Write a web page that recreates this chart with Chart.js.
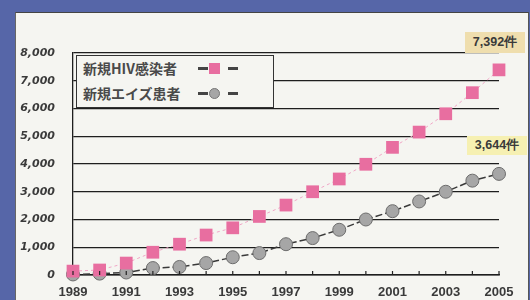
<!DOCTYPE html>
<html>
<head>
<meta charset="utf-8">
<script src="https://cdn.jsdelivr.net/npm/chart.js@4.4.0/dist/chart.umd.min.js"></script>
<style>
  html, body { margin: 0; padding: 0; }
  body { width: 530px; height: 300px; background: #5666a8; position: relative; overflow: hidden; }
  #panel { position: absolute; left: 15px; top: 12px; width: 512px; height: 290px; background: #f5f5f1;
           border-top: 1.5px solid #444; border-left: 1px solid #666; border-right: 1.5px solid #555; }
  #wrap { position: absolute; left: 0; top: 0; width: 530px; height: 300px; }
  #legend { position: absolute; left: 76px; top: 55px; width: 196px; height: 51px; background: #f5f5f1;
            border: 1.5px solid #333; font-family: "Noto Sans CJK JP", sans-serif; font-weight: bold;
            font-size: 14px; color: #4a4a4a; }
  .row { position: relative; height: 25px; line-height: 25px; padding-left: 6px; }
  .dash { position: absolute; top: 11px; width: 10px; height: 2.5px; background: #444; }
  .sym { position: absolute; top: 7px; width: 11px; height: 11px; }
  .callout { position: absolute; font-family: "Liberation Sans", sans-serif; font-weight: bold; font-size: 12.5px;
             color: #3a3a3a; text-align: center; }
</style>
</head>
<body>
<div id="panel"></div>
<div id="wrap"><canvas id="my-chart" width="530" height="300"></canvas></div>
<div id="legend"></div>
<div id="callout-hiv" class="callout" style="left:465px;top:32px;width:60px;height:21px;line-height:21px;background:#efdeae;"></div>
<div id="callout-aids" class="callout" style="left:467px;top:136px;width:60px;height:19px;line-height:19px;background:#f6f0b2;"></div>
<script>
const years = ["1989", "1990", "1991", "1992", "1993", "1994", "1995", "1996", "1997",
  "1998", "1999", "2000", "2001", "2002", "2003", "2004", "2005"];
const hivCases = [140, 180, 430, 820, 1110, 1440, 1700, 2110, 2520, 3000, 3460, 3990, 4600, 5150, 5810, 6570, 7392];
const aidsCases = [20, 50, 90, 250, 290, 430, 640, 790, 1110, 1330, 1630, 2000, 2300, 2650, 3000, 3400, 3644];
const seriesNames = ["新規HIV感染者", "新規エイズ患者"];
const yTicks = [0, 1000, 2000, 3000, 4000, 5000, 6000, 7000, 8000];
const unit = "件";

const hivColor = "#e86ea0";
const aidsColor = "#a6a6a6";

// legend: name, then "—marker—"
const legend = document.getElementById("legend");
seriesNames.forEach((name, i) => {
  const row = document.createElement("div");
  row.className = "row";
  const symStyle = i === 0
    ? `background:${hivColor};`
    : `background:${aidsColor};border-radius:50%;border:1px solid #777;width:9px;height:9px;`;
  row.innerHTML = `
    <span>${name}</span>
    <span class="dash" style="left:121px"></span>
    <span class="sym" style="left:132px;${symStyle}"></span>
    <span class="dash" style="left:151px"></span>
  `;
  legend.appendChild(row);
});

// value labels for the last year
document.getElementById("callout-hiv").textContent =
  hivCases[hivCases.length - 1].toLocaleString("en-US") + unit;
document.getElementById("callout-aids").textContent =
  aidsCases[aidsCases.length - 1].toLocaleString("en-US") + unit;

// small upward tick marks on the x axis
const tickMarks = {
  id: "tickMarks",
  afterDatasetsDraw(chart) {
    const { ctx, scales: { x }, chartArea } = chart;
    ctx.save();
    ctx.strokeStyle = "#222";
    ctx.lineWidth = 1.2;
    years.forEach((y, i) => {
      const px = x.getPixelForTick(i);
      ctx.beginPath();
      ctx.moveTo(px, chartArea.bottom);
      ctx.lineTo(px, chartArea.bottom - 4);
      ctx.stroke();
    });
    ctx.restore();
  }
};

const ctx = document.getElementById("my-chart").getContext("2d");
const myChart = new Chart(ctx, {
  type: "line",
  data: {
    labels: years,
    datasets: [
      {
        label: seriesNames[0],
        data: hivCases,
        borderColor: "#f0a6c6",
        borderWidth: 1,
        borderDash: [3, 3],
        pointStyle: "rect",
        pointRadius: 9,
        pointBackgroundColor: hivColor,
        pointBorderColor: hivColor,
        pointBorderWidth: 0,
        clip: false
      },
      {
        label: seriesNames[1],
        data: aidsCases,
        borderColor: "#3a3a3a",
        borderWidth: 1.5,
        borderDash: [7, 3],
        pointStyle: "circle",
        pointRadius: 6.5,
        pointBackgroundColor: aidsColor,
        pointBorderColor: "#6c6c6c",
        pointBorderWidth: 1,
        clip: false
      }
    ]
  },
  options: {
    responsive: false,
    animation: false,
    layout: { autoPadding: false, padding: { left: 0, right: 31, top: 53, bottom: 0 } },
    plugins: { legend: { display: false }, tooltip: { enabled: false } },
    scales: {
      x: {
        offset: false,
        grid: { display: false },
        border: { display: true, color: "#1e1e1e", width: 1.5 },
        ticks: {
          autoSkip: false,
          maxRotation: 0,
          padding: 2,
          color: "#3a3a3a",
          font: { family: "Liberation Sans", weight: "bold", size: 13 },
          callback: function (value, index) {
            return index % 2 === 0 ? years[index] : "";
          }
        },
        afterFit: scale => { scale.height = 25; }
      },
      y: {
        min: 0,
        max: 8000,
        grid: { color: "#1e1e1e", lineWidth: 1.3, drawTicks: false },
        border: { display: true, color: "#1e1e1e", width: 1.3 },
        afterBuildTicks: scale => { scale.ticks = yTicks.map(v => ({ value: v })); },
        ticks: {
          padding: 18,
          color: "#3a3a3a",
          font: { family: "DejaVu Sans", weight: "bold", style: "italic", size: 11 },
          callback: v => v.toLocaleString("en-US")
        },
        afterFit: scale => { scale.width = 73; }
      }
    }
  },
  plugins: [tickMarks]
});
</script>
</body>
</html>
